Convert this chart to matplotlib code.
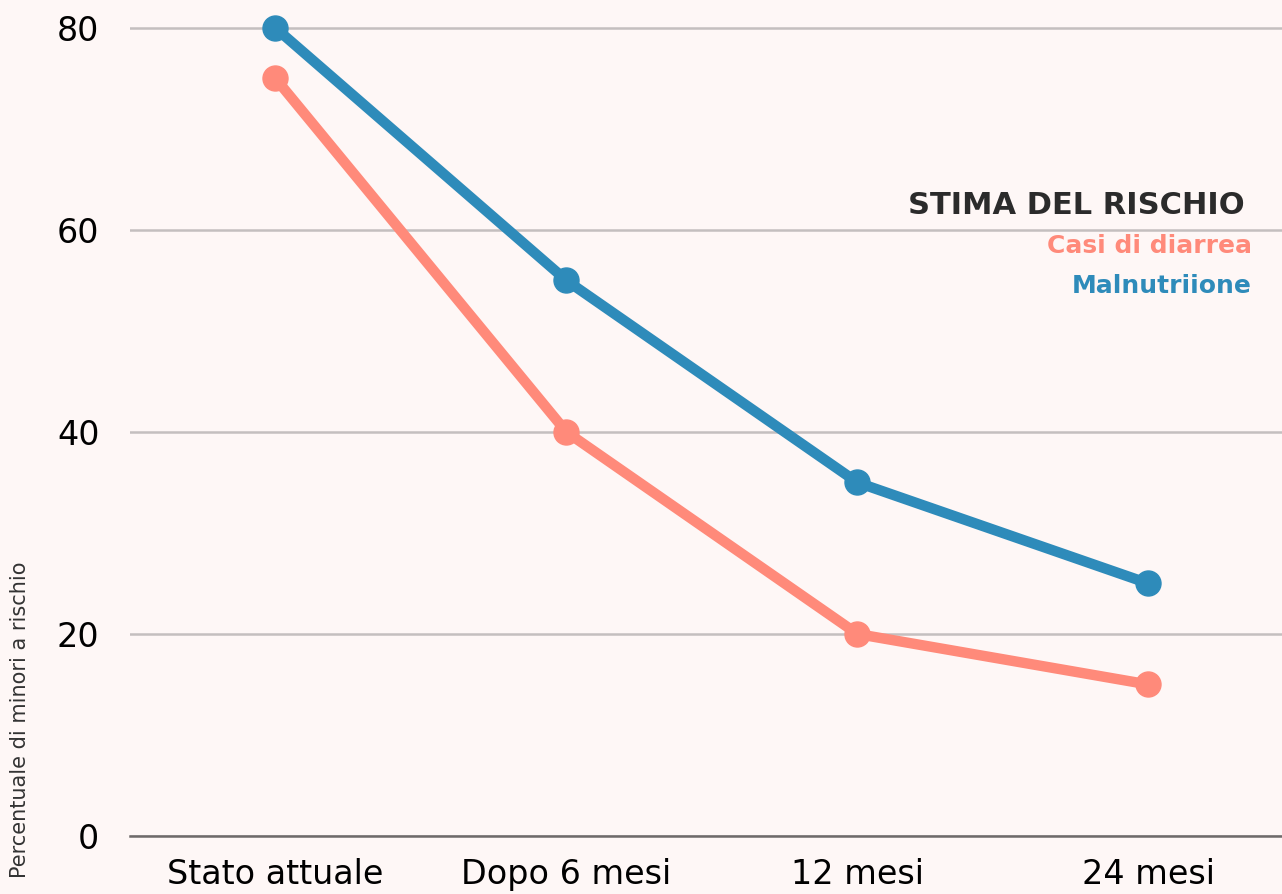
import matplotlib
matplotlib.use('Agg')
import matplotlib.pyplot as plt

# Dati
categorie = ['Stato attuale', 'Dopo 6 mesi', '12 mesi', '24 mesi']
diarrea = [75, 40, 20, 15]
malnutrizione = [80, 55, 35, 25]
yticks = [0, 20, 40, 60, 80]

sfondo = '#fef7f6'
blu = '#2e8bba'
salmone = '#ff8a7a'

fig = plt.figure(figsize=(12.82, 8.94), dpi=100, facecolor=sfondo)
ax = fig.add_axes([130/1282, 58/894, 1152/1282, 836/894])
ax.set_facecolor(sfondo)

x = range(len(categorie))
ax.plot(x, diarrea, color=salmone, lw=7.5, marker='o', ms=18,
        solid_capstyle='round', zorder=3)
ax.plot(x, malnutrizione, color=blu, lw=7.5, marker='o', ms=18,
        solid_capstyle='round', zorder=4)

ax.set_xlim(-0.5, 3.459)
ax.set_ylim(0, 82.77)
ax.set_yticks(yticks)
ax.set_xticks(list(x))
ax.set_xticklabels(categorie)
ax.tick_params(axis='both', length=0, labelsize=24, colors='black',
               labelfontfamily='DejaVu Sans')
ax.tick_params(axis='y', pad=22)
ax.tick_params(axis='x', pad=16)
ax.grid(axis='y', color='#c4bfbf', lw=1.8, zorder=0)
ax.grid(axis='x', visible=False)
for s in ['top', 'right', 'left']:
    ax.spines[s].set_visible(False)
ax.spines['bottom'].set_color('#6e6a6a')
ax.spines['bottom'].set_linewidth(1.8)

# Titolo e legenda a testo
fig.text(1245/1282, 1 - 205/894, 'STIMA DEL RISCHIO', ha='right', va='center',
         fontsize=22, fontweight='bold', color='#2b2b2b', family='DejaVu Sans')
fig.text(1252/1282, 1 - 246/894, 'Casi di diarrea', ha='right', va='center',
         fontsize=18, fontweight='bold', color=salmone, family='DejaVu Sans')
fig.text(1252/1282, 1 - 286/894, 'Malnutriione', ha='right', va='center',
         fontsize=18, fontweight='bold', color=blu, family='DejaVu Sans')

fig.text(20/1282, 1 - 720/894, 'Percentuale di minori a rischio', rotation=90,
         ha='center', va='center', fontsize=15, color='#333333',
         family='DejaVu Sans')

fig.savefig('out.png', dpi=100, facecolor=sfondo)
